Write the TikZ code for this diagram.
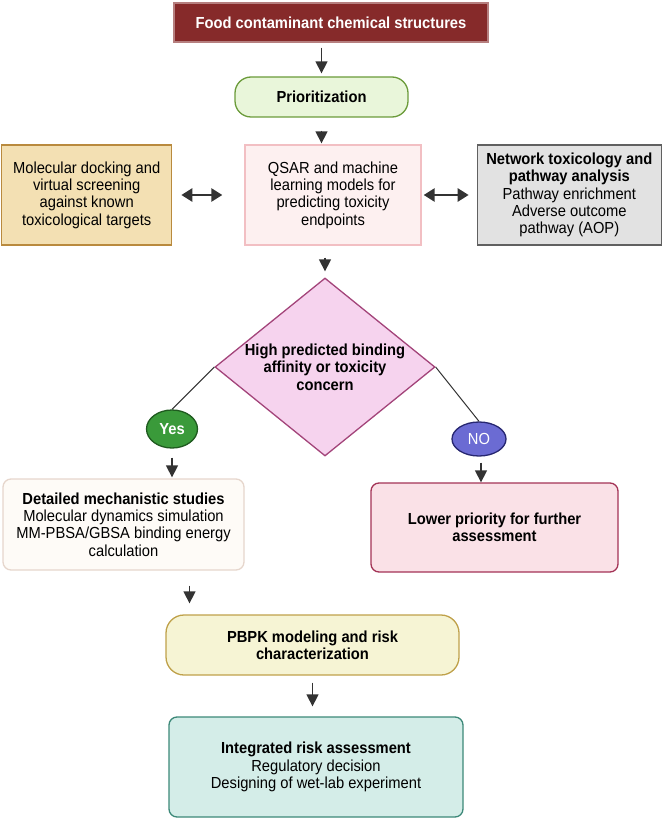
\documentclass[tikz,border=0pt]{standalone}
\usepackage{fontspec}
\setmainfont{Liberation Sans}[FakeStretch=0.92]
\usetikzlibrary{arrows.meta,positioning,shapes.geometric}

\definecolor{foodred}{HTML}{862A2A}
\definecolor{priofill}{HTML}{E9F6DA}
\definecolor{priodraw}{HTML}{6B9B3A}
\definecolor{qsarfill}{HTML}{FDF0F0}
\definecolor{qsardraw}{HTML}{F2BFC3}
\definecolor{dockfill}{HTML}{F3E0B3}
\definecolor{dockdraw}{HTML}{B98A3E}
\definecolor{netfill}{HTML}{E2E2E2}
\definecolor{netdraw}{HTML}{606060}
\definecolor{decfill}{HTML}{F6D3EE}
\definecolor{decdraw}{HTML}{A3447A}
\definecolor{yesfill}{HTML}{3A9A3A}
\definecolor{yesdraw}{HTML}{1F5A1F}
\definecolor{nofill}{HTML}{6B6BD3}
\definecolor{nodraw}{HTML}{262670}
\definecolor{detfill}{HTML}{FEFBF7}
\definecolor{detdraw}{HTML}{E6D6CC}
\definecolor{lowfill}{HTML}{FAE1E7}
\definecolor{lowdraw}{HTML}{A33356}
\definecolor{pbpkfill}{HTML}{F6F4D4}
\definecolor{pbpkdraw}{HTML}{BFA14A}
\definecolor{intfill}{HTML}{D4EDE8}
\definecolor{intdraw}{HTML}{3C8878}
\definecolor{arrowgray}{HTML}{333333}

\newcommand{\boxfont}{\fontsize{16}{17.4}\selectfont}

\begin{document}
\begin{tikzpicture}[
			x=1pt,y=-1pt,
			box/.style={
				draw,
				line width=1.3pt,
				align=center,
				inner sep=2pt,
				font=\boxfont
			},
			bubble/.style={
				ellipse,
				draw,
				line width=1.3pt,
				inner sep=0pt,
				text=white,
				font=\boxfont
			},
			arr/.style={
				-{Triangle[length=12pt,width=12pt]},
				line width=1.4pt,
				draw=arrowgray
			},
			dbl/.style={
				{Triangle[length=11pt,width=13pt]}-{Triangle[length=11pt,width=13pt]},
				line width=2.6pt,
				draw=arrowgray
			}
			]
			
			\useasboundingbox (0,0) rectangle (662,818);
			
			\node[box,fill=foodred,draw=foodred!60,text=white,minimum width=314,minimum height=39] (food) at (331,22.5)
			{\textbf{Food contaminant chemical structures}};
			
			\node[box,fill=priofill,draw=priodraw,rounded corners=16pt,minimum width=173,minimum height=40] (prio) at (321.5,97)
			{\textbf{Prioritization}};
			
			\node[box,fill=qsarfill,draw=qsardraw,minimum width=176,minimum height=100] (qsar) at (333,195)
			{QSAR and machine\\learning models for\\predicting toxicity\\endpoints};
			
			\node[box,fill=dockfill,draw=dockdraw,minimum width=170,minimum height=100,left=72 of qsar] (dock)
			{Molecular docking and\\virtual screening\\against known\\toxicological targets};
			
			\node[box,fill=netfill,draw=netdraw,minimum width=184,minimum height=100,right=55 of qsar] (net)
			{\textbf{Network toxicology and}\\\textbf{pathway analysis}\\Pathway enrichment\\Adverse outcome\\pathway (AOP)};
			
			\node[box,diamond,aspect=1.24,inner sep=0pt,fill=decfill,draw=decdraw,minimum width=220,minimum height=178] (dec) at (325,367)
			{\textbf{High predicted binding}\\\textbf{affinity or toxicity}\\\textbf{concern}};
			
			\node[bubble,fill=yesfill,draw=yesdraw,minimum width=51,minimum height=38] (yes) at (172,429)
			{\textbf{Yes}};
			
			\node[bubble,fill=nofill,draw=nodraw,minimum width=54,minimum height=34] (no) at (479,439)
			{NO};
			
			\node[box,fill=detfill,draw=detdraw,rounded corners=8pt,minimum width=241,minimum height=91] (det) at (123.5,524.5)
			{\textbf{Detailed mechanistic studies}\\Molecular dynamics simulation\\MM-PBSA/GBSA binding energy\\calculation};
			
			\node[box,fill=lowfill,draw=lowdraw,rounded corners=8pt,minimum width=247,minimum height=89] (low) at (494.5,527.5)
			{\textbf{Lower priority for further}\\\textbf{assessment}};
			
			\node[box,fill=pbpkfill,draw=pbpkdraw,rounded corners=18pt,minimum width=293,minimum height=60] (pbpk) at (312.5,645)
			{\textbf{PBPK modeling and risk}\\\textbf{characterization}};
			
			\node[box,fill=intfill,draw=intdraw,rounded corners=8pt,minimum width=294,minimum height=100] (int) at (316,767)
			{\textbf{Integrated risk assessment}\\Regulatory decision\\Designing of wet-lab experiment};
			
			\draw[arr,shorten <=5pt,shorten >=3pt] (prio.north |- food.south) -- (prio.north);
			\draw[arr,shorten <=13pt,shorten >=1pt] (prio.south) -- (prio.south |- qsar.north);
			\draw[arr,shorten <=12pt,shorten >=6pt] (dec.north |- qsar.south) -- (dec.north);
			
			\draw[dbl,shorten <=9pt,shorten >=22pt] (dock.east) -- (qsar.west);
			\draw[dbl,shorten <=2pt,shorten >=8pt] (qsar.east) -- (net.west);
			
			\draw[line width=1pt,draw=arrowgray] (dec.west) -- (yes.north);
			\draw[line width=1pt,draw=arrowgray] (dec.east) -- (no.north);
			
			\draw[arr,shorten <=9pt,shorten >=1pt] (yes.south) -- (yes.south |- det.north);
			\draw[arr,shorten <=6pt,shorten >=0pt] ([xshift=2pt]no.south) -- ([xshift=2pt]no.south |- low.north);
			\draw[arr,shorten <=15pt,shorten >=11pt] ([xshift=66pt]det.south) -- ([xshift=66pt]det.south |- pbpk.north);
			\draw[arr,shorten <=7pt,shorten >=10pt] (pbpk.south) -- (pbpk.south |- int.north);
			
		\end{tikzpicture}
\end{document}
